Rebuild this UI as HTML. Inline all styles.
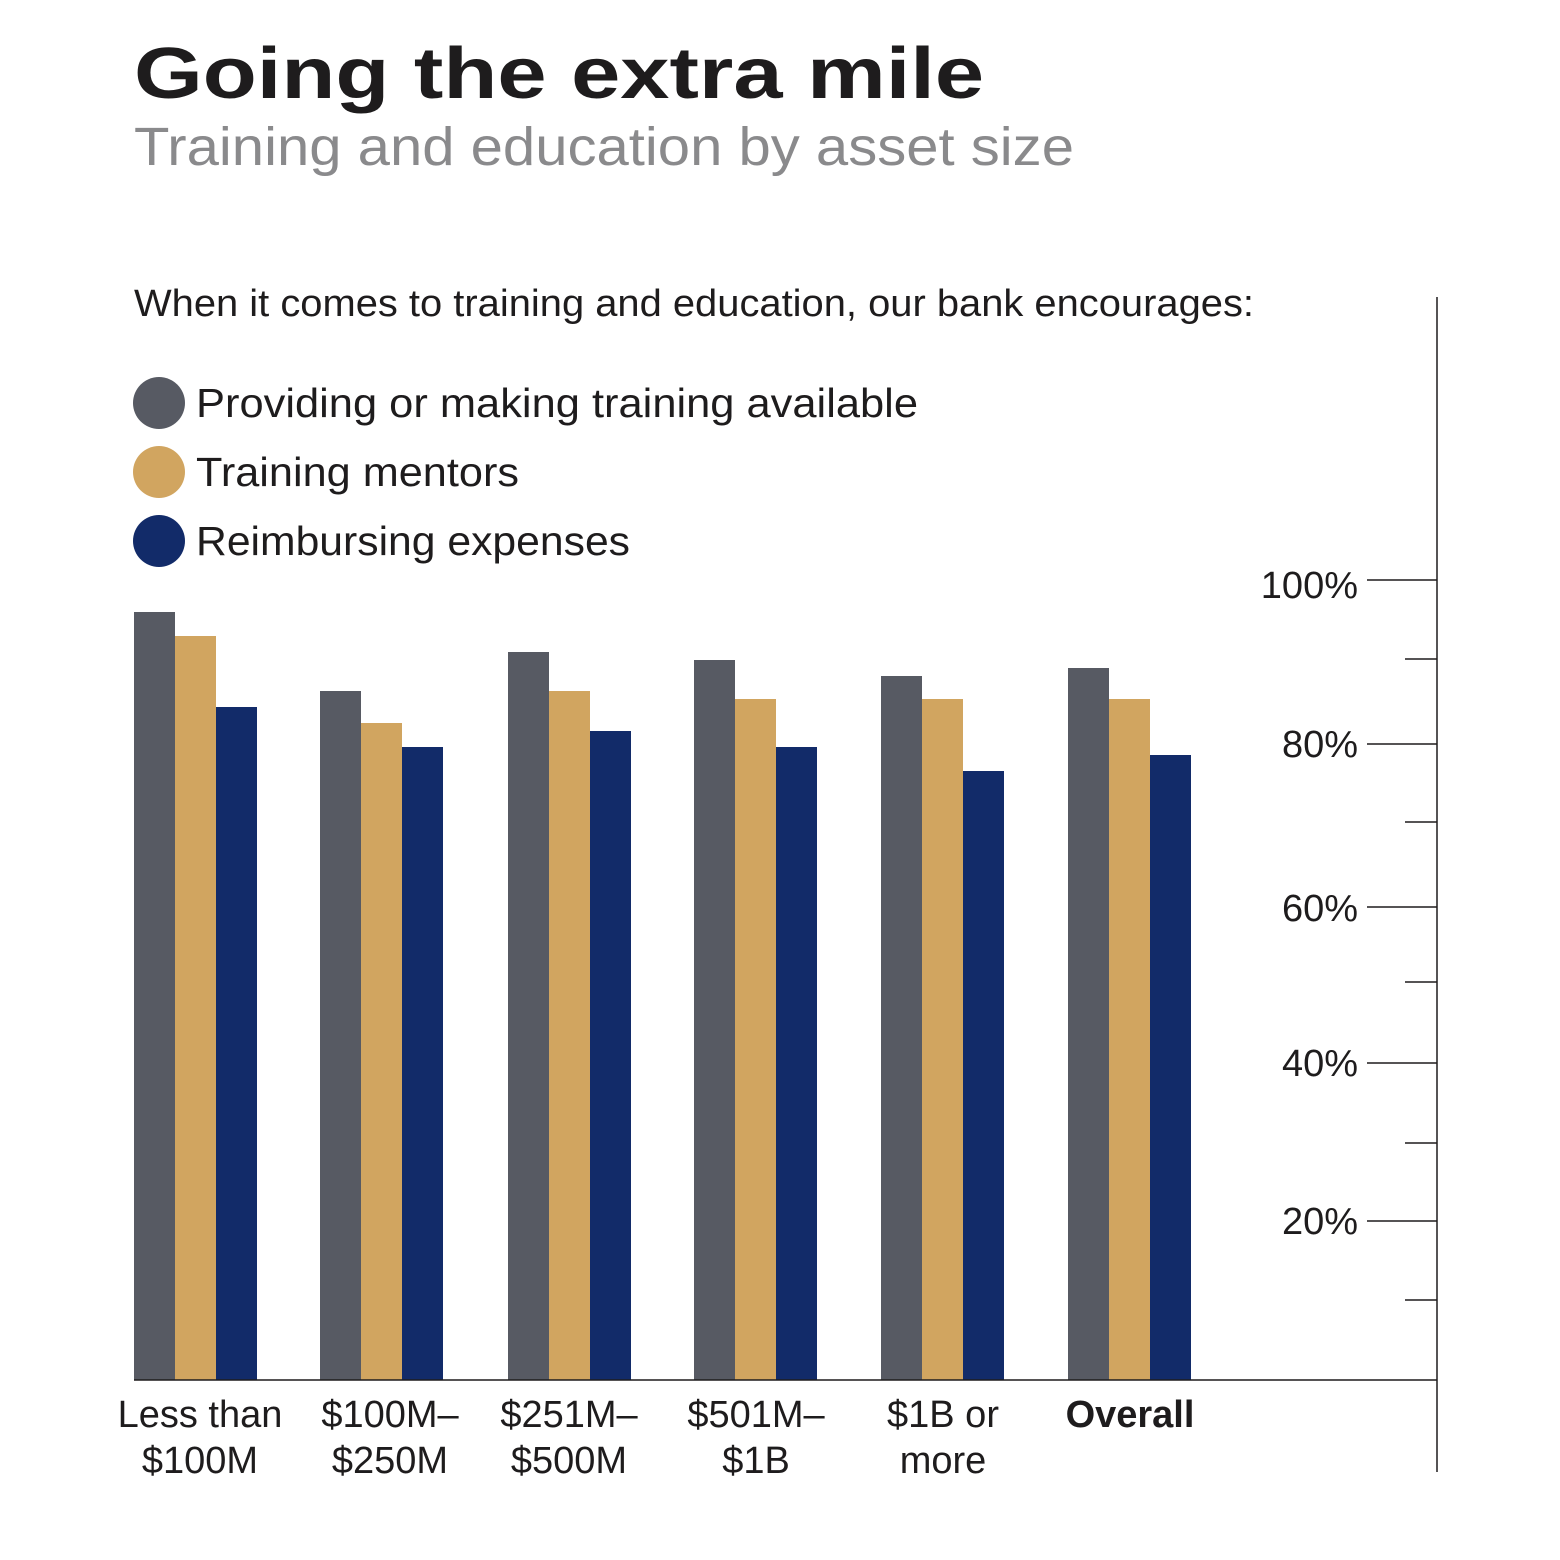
<!DOCTYPE html>
<html><head><meta charset="utf-8"><style>
html,body{margin:0;padding:0;background:#fff;}
svg{display:block;}
text{font-family:"Liberation Sans",sans-serif;}
</style></head><body>
<svg width="1560" height="1560" viewBox="0 0 1560 1560" xmlns="http://www.w3.org/2000/svg">
<text x="134" y="98" font-size="72" font-weight="bold" fill="#1e1c1d" textLength="850" lengthAdjust="spacingAndGlyphs">Going the extra mile</text>
<text x="134" y="165" font-size="54" fill="#8a8a8c" textLength="940" lengthAdjust="spacingAndGlyphs">Training and education by asset size</text>
<text x="134" y="316" font-size="38" fill="#1e1c1d" textLength="1120" lengthAdjust="spacingAndGlyphs">When it comes to training and education, our bank encourages:</text>
<circle cx="159" cy="403" r="26" fill="#575a63"/>
<circle cx="159" cy="472" r="26" fill="#d1a560"/>
<circle cx="159" cy="541" r="26" fill="#122b69"/>
<text x="196" y="417" font-size="41" fill="#1e1c1d" textLength="722" lengthAdjust="spacingAndGlyphs">Providing or making training available</text>
<text x="196" y="486" font-size="41" fill="#1e1c1d" textLength="323" lengthAdjust="spacingAndGlyphs">Training mentors</text>
<text x="196" y="555" font-size="41" fill="#1e1c1d" textLength="434" lengthAdjust="spacingAndGlyphs">Reimbursing expenses</text>
<g>
<rect x="134" y="612" width="41" height="768" fill="#575a63"/><rect x="175" y="636" width="41" height="744" fill="#d1a560"/><rect x="216" y="707" width="41" height="673" fill="#122b69"/>
<rect x="320" y="691" width="41" height="689" fill="#575a63"/><rect x="361" y="723" width="41" height="657" fill="#d1a560"/><rect x="402" y="747" width="41" height="633" fill="#122b69"/>
<rect x="508" y="652" width="41" height="728" fill="#575a63"/><rect x="549" y="691" width="41" height="689" fill="#d1a560"/><rect x="590" y="731" width="41" height="649" fill="#122b69"/>
<rect x="694" y="660" width="41" height="720" fill="#575a63"/><rect x="735" y="699" width="41" height="681" fill="#d1a560"/><rect x="776" y="747" width="41" height="633" fill="#122b69"/>
<rect x="881" y="676" width="41" height="704" fill="#575a63"/><rect x="922" y="699" width="41" height="681" fill="#d1a560"/><rect x="963" y="771" width="41" height="609" fill="#122b69"/>
<rect x="1068" y="668" width="41" height="712" fill="#575a63"/><rect x="1109" y="699" width="41" height="681" fill="#d1a560"/><rect x="1150" y="755" width="41" height="625" fill="#122b69"/>
</g>
<g stroke="#1e1c1d" stroke-width="1.5">
<line x1="1437" y1="297" x2="1437" y2="1472"/>
<line x1="134" y1="1380" x2="1437" y2="1380"/>
<line x1="1367" y1="580" x2="1437" y2="580"/>
<line x1="1367" y1="744" x2="1437" y2="744"/>
<line x1="1367" y1="907" x2="1437" y2="907"/>
<line x1="1367" y1="1063" x2="1437" y2="1063"/>
<line x1="1367" y1="1221" x2="1437" y2="1221"/>
<line x1="1405" y1="659" x2="1437" y2="659"/>
<line x1="1405" y1="822" x2="1437" y2="822"/>
<line x1="1405" y1="982" x2="1437" y2="982"/>
<line x1="1405" y1="1143" x2="1437" y2="1143"/>
<line x1="1405" y1="1300" x2="1437" y2="1300"/>
</g>
<g font-size="38" fill="#1e1c1d" text-anchor="end">
<text x="1358" y="598">100%</text>
<text x="1358" y="757">80%</text>
<text x="1358" y="921">60%</text>
<text x="1358" y="1076">40%</text>
<text x="1358" y="1234">20%</text>
</g>
<g font-size="38" fill="#1e1c1d" text-anchor="middle">
<text x="200" y="1427">Less than</text><text x="200" y="1473">$100M</text>
<text x="390" y="1427">$100M–</text><text x="390" y="1473">$250M</text>
<text x="569" y="1427">$251M–</text><text x="569" y="1473">$500M</text>
<text x="756" y="1427">$501M–</text><text x="756" y="1473">$1B</text>
<text x="943" y="1427">$1B or</text><text x="943" y="1473">more</text>
<text x="1130" y="1427" font-weight="bold">Overall</text>
</g>
</svg>
</body></html>
